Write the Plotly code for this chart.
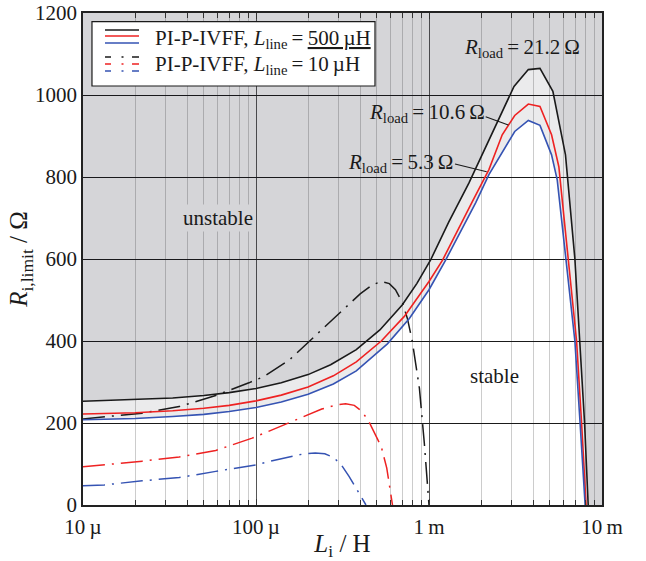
import plotly.graph_objects as go

# ---------------- data ----------------
L_MIN, L_MAX = 1e-5, 1e-2
R_MIN, R_MAX = 0, 1200

# L_line = 500 uH, R_load = 21.2 ohm (black, solid)
L_r212 = [1.0e-5, 2.0e-5, 3.3e-5, 5.0e-5, 7.0e-5, 1.0e-4, 1.4e-4, 2.0e-4, 2.7e-4, 3.8e-4,
          5.2e-4, 7.0e-4, 8.5e-4, 1.02e-3, 1.3e-3, 1.70e-3, 3.10e-3, 3.75e-3, 4.38e-3, 5.20e-3,
          6.15e-3, 6.97e-3, 7.45e-3, 7.93e-3, 8.32e-3]
R_r212 = [253, 257, 261, 267, 274, 284, 298, 318, 342, 379, 427, 488, 540, 597, 690, 785, 1021,
          1062, 1065, 1009, 854, 600, 400, 200, 0]

# L_line = 500 uH, R_load = 10.6 ohm (red, solid)
L_r106 = [1.0e-5, 2.0e-5, 3.3e-5, 5.0e-5, 7.0e-5, 1.0e-4, 1.4e-4, 2.0e-4, 2.8e-4, 3.8e-4,
          5.3e-4, 7.2e-4, 1.0e-3, 1.2e-3, 1.78e-3, 2.22e-3, 2.65e-3, 3.13e-3, 3.75e-3, 4.38e-3,
          5.11e-3, 5.63e-3, 6.38e-3, 7.13e-3, 7.62e-3, 8.09e-3]
R_r106 = [222, 225, 230, 236, 243, 254, 268, 288, 315, 349, 400, 460, 545, 598, 740, 818, 903,
          950, 978, 972, 903, 825, 600, 400, 200, 0]

# L_line = 500 uH, R_load = 5.3 ohm (blue, solid)
L_r53 = [1.0e-5, 2.0e-5, 3.3e-5, 5.0e-5, 7.0e-5, 1.0e-4, 1.4e-4, 2.0e-4, 2.8e-4, 3.8e-4,
         5.75e-4, 7.7e-4, 1.0e-3, 1.25e-3, 1.86e-3, 2.22e-3, 3.13e-3, 3.75e-3, 4.38e-3, 5.11e-3,
         5.51e-3, 6.21e-3, 6.97e-3, 7.47e-3, 7.99e-3]
R_r53 = [208, 211, 216, 221, 228, 238, 251, 270, 295, 327, 393, 455, 525, 598, 737, 806, 911,
         938, 926, 854, 793, 600, 400, 200, 0]

# L_line = 10 uH, R_load = 21.2 ohm (black, dash-dot)
L_d212 = [1.0e-5, 2.2e-5, 3.6e-5, 5.85e-5, 9.1e-5, 1.12e-4, 1.56e-4, 2.23e-4, 3.15e-4, 4.0e-4,
          4.7e-4, 5.3e-4, 5.9e-4, 6.4e-4, 7.0e-4, 7.5e-4, 8.0e-4, 8.8e-4, 9.4e-4, 9.8e-4, 1.0e-3]
R_d212 = [210, 224, 240, 267, 298, 314, 354, 415, 472, 515, 537, 545, 540, 525, 495, 455, 400,
          285, 150, 55, 0]

# L_line = 10 uH, R_load = 10.6 ohm (red, dash-dot)
L_d106 = [1.0e-5, 1.36e-5, 2.2e-5, 3.6e-5, 5.85e-5, 9.5e-5, 1.28e-4, 1.62e-4, 2.0e-4, 2.4e-4,
          2.9e-4, 3.3e-4, 3.7e-4, 4.1e-4, 4.5e-4, 4.9e-4, 5.3e-4, 5.7e-4, 6.15e-4]
R_d106 = [93, 98, 107, 117, 133, 163, 186, 203, 220, 234, 244, 247, 243, 228, 203, 173, 142, 90, 0]

# L_line = 10 uH, R_load = 5.3 ohm (blue, dash-dot)
L_d53 = [1.0e-5, 1.33e-5, 2.2e-5, 3.6e-5, 5.85e-5, 1.0e-4, 1.3e-4, 1.56e-4, 1.9e-4, 2.2e-4,
         2.5e-4, 2.8e-4, 3.1e-4, 3.45e-4, 3.8e-4, 4.1e-4, 4.32e-4]
R_d53 = [47, 49, 59, 67, 82, 98, 110, 118, 125, 127, 125, 116, 99, 70, 40, 17, 0]

x_tickvals = [1e-5, 1e-4, 1e-3, 1e-2]
x_ticktext = ['10\u2009µ', '100\u2009µ', '1\u2009m', '10\u2009m']
x_minor = [m * 10.0 ** e for e in (-5, -4, -3) for m in range(2, 10)]

# ---------------- styles ----------------
BLACK = '#1a1a1a'
RED = '#ee2222'
BLUE = '#3553b3'
DASHDOT = '22px,7px,2px,7px'
FILL_UNSTABLE = 'rgba(20,20,40,0.18)'
FILL_BAND = 'rgba(20,20,40,0.085)'
FONT = 'Liberation Serif, Times New Roman, serif'

fig = go.Figure()

# unstable region (above the 21.2 ohm curve)
fig.add_trace(go.Scatter(
    x=L_r212 + [L_MAX, L_MAX, L_MIN], y=R_r212 + [R_MIN, R_MAX, R_MAX],
    mode='lines', line=dict(width=0), fill='toself', fillcolor=FILL_UNSTABLE,
    hoverinfo='skip', showlegend=False))
# transition band between the 21.2 ohm and 5.3 ohm curves
fig.add_trace(go.Scatter(
    x=L_r212 + L_r53[::-1], y=R_r212 + R_r53[::-1],
    mode='lines', line=dict(width=0), fill='toself', fillcolor=FILL_BAND,
    hoverinfo='skip', showlegend=False))

for L, R, c in [(L_d212, R_d212, BLACK), (L_d106, R_d106, RED), (L_d53, R_d53, BLUE)]:
    fig.add_trace(go.Scatter(x=L, y=R, mode='lines',
                             line=dict(color=c, width=1.5, dash=DASHDOT),
                             showlegend=False))
for L, R, c in [(L_r212, R_r212, BLACK), (L_r106, R_r106, RED), (L_r53, R_r53, BLUE)]:
    fig.add_trace(go.Scatter(x=L, y=R, mode='lines',
                             line=dict(color=c, width=1.6),
                             showlegend=False))

fig.update_layout(
    width=646, height=561,
    margin=dict(l=83, r=44, t=13, b=56),
    paper_bgcolor='white', plot_bgcolor='white',
    font=dict(family=FONT, size=21, color='#1a1a1a'),
    showlegend=False,
)
fig.update_xaxes(
    type='log', range=[-5, -2], automargin=False,
    tickmode='array', tickvals=x_tickvals, ticktext=x_ticktext,
    showgrid=True, gridcolor='#555555', gridwidth=1.2,
    ticks='inside', ticklen=6, tickcolor='#333333', ticklabelstandoff=2,
    minor=dict(tickmode='array', tickvals=x_minor, showgrid=True, gridcolor='#cccccc',
               gridwidth=1.2, ticks='inside', ticklen=5, tickcolor='#333333'),
    showline=True, linecolor='#222222', linewidth=1.5, mirror='allticks',
    zeroline=False,
    title=dict(text='<i>L</i><sub>i</sub> / H', standoff=3),
)
fig.update_yaxes(
    range=[R_MIN, R_MAX], dtick=200, automargin=False,
    showgrid=True, gridcolor=BLACK, gridwidth=1,
    ticks='', showline=True, linecolor='#222222', linewidth=1.5, mirror=True,
    zeroline=False,
    title=dict(text='<i>R</i><sub>i,limit</sub> / Ω', standoff=0),
)

# ---------------- manual legend ----------------
shapes = [dict(type='rect', xref='paper', yref='paper', x0=0.0173, x1=0.5626, y0=0.8516,
               y1=0.9823, fillcolor='white', line=dict(color='#1a1a1a', width=1.2),
               layer='above')]
for yy, c in [(0.9654, BLACK), (0.9533, RED), (0.9390, BLUE)]:
    shapes.append(dict(type='line', xref='paper', yref='paper', x0=0.0424, x1=0.1079,
                       y0=yy, y1=yy, line=dict(color=c, width=1.5), layer='above'))
for yy, c in [(0.9106, BLACK), (0.8963, RED), (0.8821, BLUE)]:
    shapes.append(dict(type='line', xref='paper', yref='paper', x0=0.0424, x1=0.1079,
                       y0=yy, y1=yy, line=dict(color=c, width=1.5,
                                               dash='6px,10.5px,2px,8.5px,7px,50px'),
                       layer='above'))
# leader lines
shapes.append(dict(type='line', xref='paper', yref='paper', x0=0.7759, x1=0.8195,
                   y0=0.7892, y1=0.7724, line=dict(color=BLACK, width=1.2)))
shapes.append(dict(type='line', xref='paper', yref='paper', x0=0.7168, x1=0.7778,
                   y0=0.6931, y1=0.6774, line=dict(color=BLACK, width=1.2)))
fig.update_layout(shapes=shapes)

ann = [
    dict(text='PI-P-IVFF, <i>L</i><sub>line</sub>\u2009=\u2009<u>500\u2009µH</u>',
         x=0.1349, y=0.9472, xanchor='left', yanchor='middle'),
    dict(text='PI-P-IVFF, <i>L</i><sub>line</sub>\u2009=\u200910\u2009µH',
         x=0.1349, y=0.8943, xanchor='left', yanchor='middle'),
    dict(text='<i>R</i><sub>load</sub>\u2009=\u200921.2\u2009Ω', x=0.8468, y=0.9283),
    dict(text='<i>R</i><sub>load</sub>\u2009=\u200910.6\u2009Ω', x=0.6622, y=0.7961),
    dict(text='<i>R</i><sub>load</sub>\u2009=\u20095.3\u2009Ω', x=0.6108, y=0.6945),
    dict(text='unstable', x=0.2601, y=0.5833, bgcolor='rgb(213,213,216)'),
    dict(text='stable', x=0.7938, y=0.2622),
]
for a in ann:
    a.setdefault('xanchor', 'center')
    a.setdefault('yanchor', 'middle')
    fig.add_annotation(xref='paper', yref='paper', showarrow=False,
                       font=dict(family=FONT, size=21, color='#1a1a1a'), **a)

fig.write_html('out.html')
